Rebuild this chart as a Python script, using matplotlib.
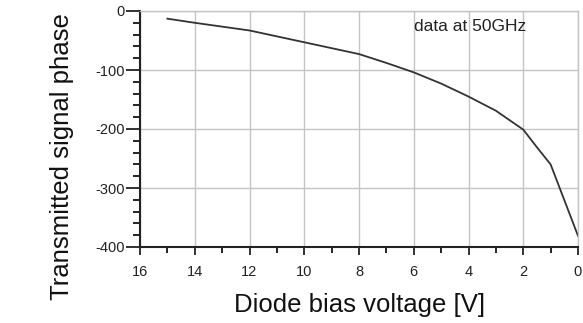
import matplotlib
matplotlib.use("Agg")
import matplotlib.pyplot as plt
from matplotlib.ticker import MultipleLocator

voltage = [15, 14, 12, 10, 8, 7, 6, 5, 4, 3, 2.5, 2, 1.5, 1, 0]
phase = [-13, -20, -33, -53, -73, -88, -104, -123, -145, -169, -185, -201, -231, -260, -381]

xticks = [16, 14, 12, 10, 8, 6, 4, 2, 0]
yticks = [0, -100, -200, -300, -400]

plt.rcParams['font.family'] = ['Liberation Sans', 'DejaVu Sans']

W, H = 583, 323
fig = plt.figure(figsize=(W / 100, H / 100), dpi=100)
ax = fig.add_axes([140 / W, 1 - 247 / H, 438 / W, 236 / H])

ax.plot(voltage, phase, color='#333333', lw=1.3)

ax.set_xlim(16, 0)
ax.set_ylim(-400, 0)
ax.set_xticks(xticks)
ax.set_yticks(yticks)
ax.set_xticklabels([str(v) for v in xticks])
ax.set_yticklabels([str(v) for v in yticks])
ax.xaxis.set_minor_locator(MultipleLocator(1))
ax.yaxis.set_minor_locator(MultipleLocator(20))

ax.grid(True, which='major', color='#c4c4c4', lw=1.0)
ax.set_axisbelow(True)

for s in ['top', 'right']:
    ax.spines[s].set_color('#c4c4c4')
    ax.spines[s].set_linewidth(1.0)
for s in ['left', 'bottom']:
    ax.spines[s].set_color('#222222')
    ax.spines[s].set_linewidth(1.5)

ax.tick_params(axis='y', which='major', length=10, width=1.3, pad=1, labelsize=10.5, colors='#222222')
ax.tick_params(axis='y', which='minor', length=5, width=1.2)
ax.tick_params(axis='x', which='major', length=6, width=1.3, pad=7, labelsize=10.5, colors='#222222')
ax.tick_params(axis='x', which='minor', length=4, width=1.2)

fig.text(360 / W, 1 - 305 / H, 'Diode bias voltage [V]', fontsize=18.5, color='#111111',
         ha='center', va='center')
fig.text(62 / W, 1 - 157 / H, 'Transmitted signal phase', fontsize=18.5, color='#111111',
         ha='center', va='center', rotation=90)

ax.text(6.0, -27, 'data at 50GHz', fontsize=12.5, color='#222222', va='center', ha='left')

fig.savefig('out.png', dpi=100)
